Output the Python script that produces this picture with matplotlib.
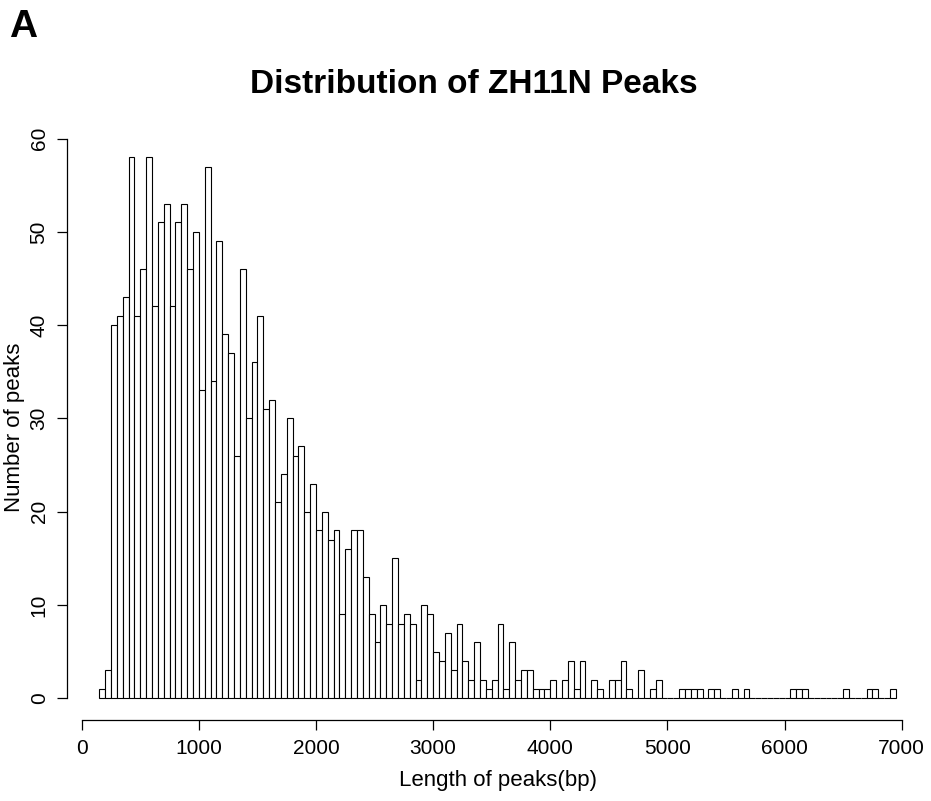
import numpy as np
import matplotlib
matplotlib.use("Agg")
import matplotlib.pyplot as plt

plt.rcParams["font.family"] = ["Liberation Sans", "DejaVu Sans"]

# histogram of peak lengths, bins of 50 bp starting at 150
bin_start = 150
bin_width = 50
counts = [
    1, 3, 40, 41, 43, 58, 41, 46, 58, 42,
    51, 53, 42, 51, 53, 46, 50, 33, 57, 34,
    49, 39, 37, 26, 46, 30, 36, 41, 31, 32,
    21, 24, 30, 26, 27, 20, 23, 18, 20, 17,
    18, 9, 16, 18, 18, 13, 9, 6, 10, 8,
    15, 8, 9, 8, 2, 10, 9, 5, 4, 7,
    3, 8, 4, 2, 6, 2, 1, 2, 8, 1,
    6, 2, 3, 3, 1, 1, 1, 2, 0, 2,
    4, 1, 4, 0, 2, 1, 0, 2, 2, 4,
    1, 0, 3, 0, 1, 2, 0, 0, 0, 1,
    1, 1, 1, 0, 1, 1, 0, 0, 1, 0,
    1, 0, 0, 0, 0, 0, 0, 0, 1, 1,
    1, 0, 0, 0, 0, 0, 0, 1, 0, 0,
    0, 1, 1, 0, 0, 1,
]
x_ticks = [0, 1000, 2000, 3000, 4000, 5000, 6000, 7000]
y_ticks = [0, 10, 20, 30, 40, 50, 60]

left_edges = bin_start + bin_width * np.arange(len(counts))

fig = plt.figure(figsize=(9.31, 8.01), dpi=100)
ax = fig.add_axes([0.0724, 0.1011, 0.9241, 0.7297])

ax.bar(left_edges, counts, width=bin_width, align="edge",
       facecolor="white", edgecolor="black", linewidth=0.8)

ax.set_xlim(-122, 7222)
ax.set_ylim(-2.32, 60.32)

for s in ["top", "right"]:
    ax.spines[s].set_visible(False)
ax.spines["left"].set_bounds(0, 60)
ax.spines["bottom"].set_bounds(0, 7000)
ax.spines["left"].set_linewidth(0.9)
ax.spines["bottom"].set_linewidth(0.9)

ax.set_xticks(x_ticks)
ax.set_yticks(y_ticks)
ax.set_xticklabels([str(v) for v in x_ticks])
ax.set_yticklabels([str(v) for v in y_ticks], rotation=90, va="center")
ax.tick_params(axis="both", length=7.5, width=0.9, labelsize=15, pad=6)

ax.set_xlabel("Length of peaks(bp)", fontsize=16, labelpad=9)
ax.set_ylabel("Number of peaks", fontsize=16, labelpad=3)

fig.text(0.5086, 0.895, "Distribution of ZH11N Peaks", ha="center", va="center",
         fontsize=24, fontweight="bold")
fig.text(0.01, 0.966, "A", ha="left", va="center", fontsize=28, fontweight="bold")

fig.savefig("out.png", dpi=100)
